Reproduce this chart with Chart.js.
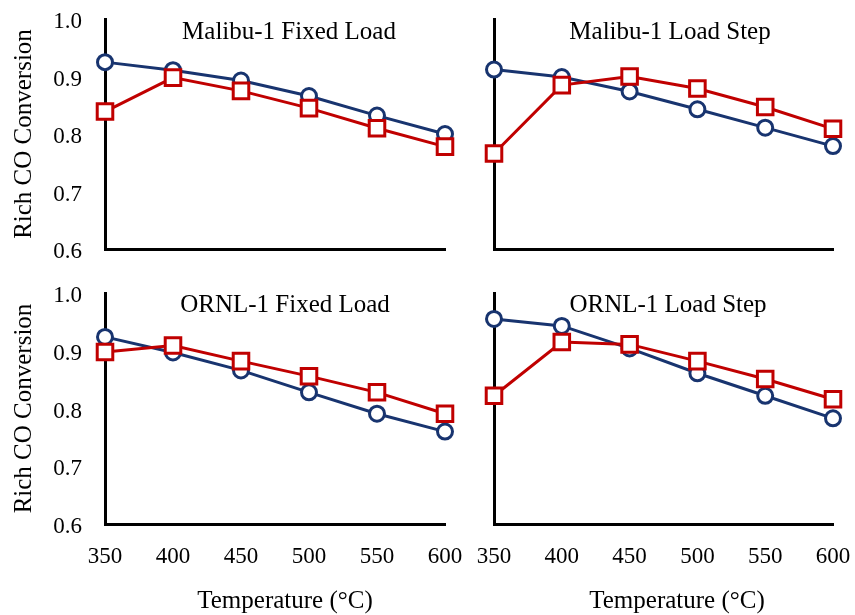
<!DOCTYPE html>
<html>
<head>
<meta charset="utf-8">
<script src="https://cdn.jsdelivr.net/npm/chart.js@4.4.1/dist/chart.umd.min.js"></script>
<style>
	html, body { margin: 0; padding: 0; background: #fff; }
	#wrap { position: relative; width: 855px; height: 615px; }
	.panel { position: absolute; }
</style>
</head>
<body>
<div id="wrap">
	<div class="panel" style="left:0;top:0;width:475px;height:270px"><canvas id="c-mf"></canvas></div>
	<div class="panel" style="left:455px;top:0;width:400px;height:270px"><canvas id="c-ms"></canvas></div>
	<div class="panel" style="left:0;top:270px;width:475px;height:345px"><canvas id="c-of"></canvas></div>
	<div class="panel" style="left:455px;top:270px;width:400px;height:345px"><canvas id="c-os"></canvas></div>
</div>
<script>
	// Temperatures (°C) shared by all panels
	const temps = [350, 400, 450, 500, 550, 600];
	const yTicks = [0.6, 0.7, 0.8, 0.9, 1.0];

	// Malibu-1 Fixed Load
	const malibuFixedBlue = [0.925, 0.911, 0.893, 0.866, 0.832, 0.800];
	const malibuFixedRed  = [0.839, 0.898, 0.875, 0.845, 0.810, 0.778];
	// Malibu-1 Load Step
	const malibuStepBlue  = [0.912, 0.899, 0.874, 0.843, 0.811, 0.779];
	const malibuStepRed   = [0.766, 0.885, 0.900, 0.879, 0.847, 0.809];
	// ORNL-1 Fixed Load
	const ornlFixedBlue   = [0.924, 0.897, 0.866, 0.828, 0.791, 0.760];
	const ornlFixedRed    = [0.898, 0.909, 0.882, 0.856, 0.828, 0.791];
	// ORNL-1 Load Step
	const ornlStepBlue    = [0.955, 0.943, 0.904, 0.861, 0.822, 0.783];
	const ornlStepRed     = [0.822, 0.915, 0.911, 0.882, 0.851, 0.816];

	const BLUE = '#18346f';
	const RED = '#c00000';
	const FONT = 'Liberation Serif, "Times New Roman", serif';

	// panel caption inside the plot, plus the x axis title under bottom panels
	const panelText = {
		id: 'panelText',
		afterDraw: function(chart, args, opts) {
			const ctx = chart.ctx;
			ctx.save();
			ctx.font = '25px ' + FONT;
			ctx.fillStyle = '#000';
			ctx.textAlign = 'center';
			ctx.textBaseline = 'middle';
			ctx.fillText(opts.text, opts.x, opts.y);
			if (opts.xTitle) {
				ctx.fillText(opts.xTitle, opts.xTitleX, opts.xTitleY);
			}
			ctx.restore();
		}
	};

	// keep the plot box exactly where the layout says, labels may overflow
	function noPad(s) {
		s.paddingLeft = 0;
		s.paddingRight = 0;
		s.paddingTop = 0;
		s.paddingBottom = 0;
	}

	function makePanel(id, cfg) {
		const ctx = document.getElementById(id);
		return new Chart(ctx, {
			type: 'line',
			data: {
				labels: temps,
				datasets: [
					{
						data: cfg.red,
						borderColor: RED,
						backgroundColor: '#fff',
						borderWidth: 3,
						pointStyle: 'rect',
						pointRadius: 11,
						pointBorderWidth: 3,
						pointBackgroundColor: '#fff',
						order: 0,
						clip: false
					},
					{
						data: cfg.blue,
						borderColor: BLUE,
						backgroundColor: '#fff',
						borderWidth: 3,
						pointStyle: 'circle',
						pointRadius: 7.5,
						pointBorderWidth: 3,
						pointBackgroundColor: '#fff',
						order: 1,
						clip: false
					}
				]
			},
			options: {
				responsive: true,
				maintainAspectRatio: false,
				animation: false,
				layout: { padding: { left: 0, top: cfg.top, right: cfg.right, bottom: 0 } },
				plugins: {
					legend: { display: false },
					tooltip: { enabled: false },
					panelText: {
						text: cfg.title, x: cfg.titleX, y: cfg.titleY,
						xTitle: cfg.showX ? 'Temperature (°C)' : '',
						xTitleX: cfg.xTitleX, xTitleY: 331
					}
				},
				scales: {
					x: {
						offset: false,
						grid: { display: false, drawTicks: false },
						border: { display: true, color: '#000', width: 3 },
						ticks: {
							display: cfg.showX,
							padding: 19,
							color: '#000',
							maxRotation: 0,
							autoSkip: false,
							font: { family: FONT, size: 23 }
						},
						afterFit: function(s) { s.height = cfg.xHeight; noPad(s); }
					},
					y: {
						min: 0.6,
						max: 1.0,
						afterBuildTicks: function(s) {
							s.ticks = yTicks.map(v => ({ value: v }));
						},
						grid: { display: false, drawTicks: false },
						border: { display: true, color: '#000', width: 3 },
						ticks: {
							display: cfg.showY,
							padding: 23,
							labelOffset: 3,
							color: '#000',
							font: { family: FONT, size: 23 },
							callback: v => Number(v).toFixed(1)
						},
						title: {
							display: cfg.showY,
							text: 'Rich CO Conversion',
							color: '#000',
							padding: { top: 9, bottom: 0 },
							font: { family: FONT, size: 25 }
						},
						afterFit: function(s) { s.width = cfg.yWidth; noPad(s); }
					}
				}
			},
			plugins: [panelText]
		});
	}

	makePanel('c-mf', {
		blue: malibuFixedBlue, red: malibuFixedRed,
		title: 'Malibu-1 Fixed Load', titleX: 289, titleY: 32,
		top: 19, right: 30, xHeight: 21, yWidth: 105, showX: false, showY: true
	});
	makePanel('c-ms', {
		blue: malibuStepBlue, red: malibuStepRed,
		title: 'Malibu-1 Load Step', titleX: 215, titleY: 32,
		top: 19, right: 22, xHeight: 21, yWidth: 39, showX: false, showY: false
	});
	makePanel('c-of', {
		blue: ornlFixedBlue, red: ornlFixedRed,
		title: 'ORNL-1 Fixed Load', titleX: 285, titleY: 35,
		top: 23, right: 30, xHeight: 91, yWidth: 105, showX: true, showY: true,
		xTitleX: 285
	});
	makePanel('c-os', {
		blue: ornlStepBlue, red: ornlStepRed,
		title: 'ORNL-1 Load Step', titleX: 213, titleY: 35,
		top: 23, right: 22, xHeight: 91, yWidth: 39, showX: true, showY: false,
		xTitleX: 222
	});
</script>
</body>
</html>
